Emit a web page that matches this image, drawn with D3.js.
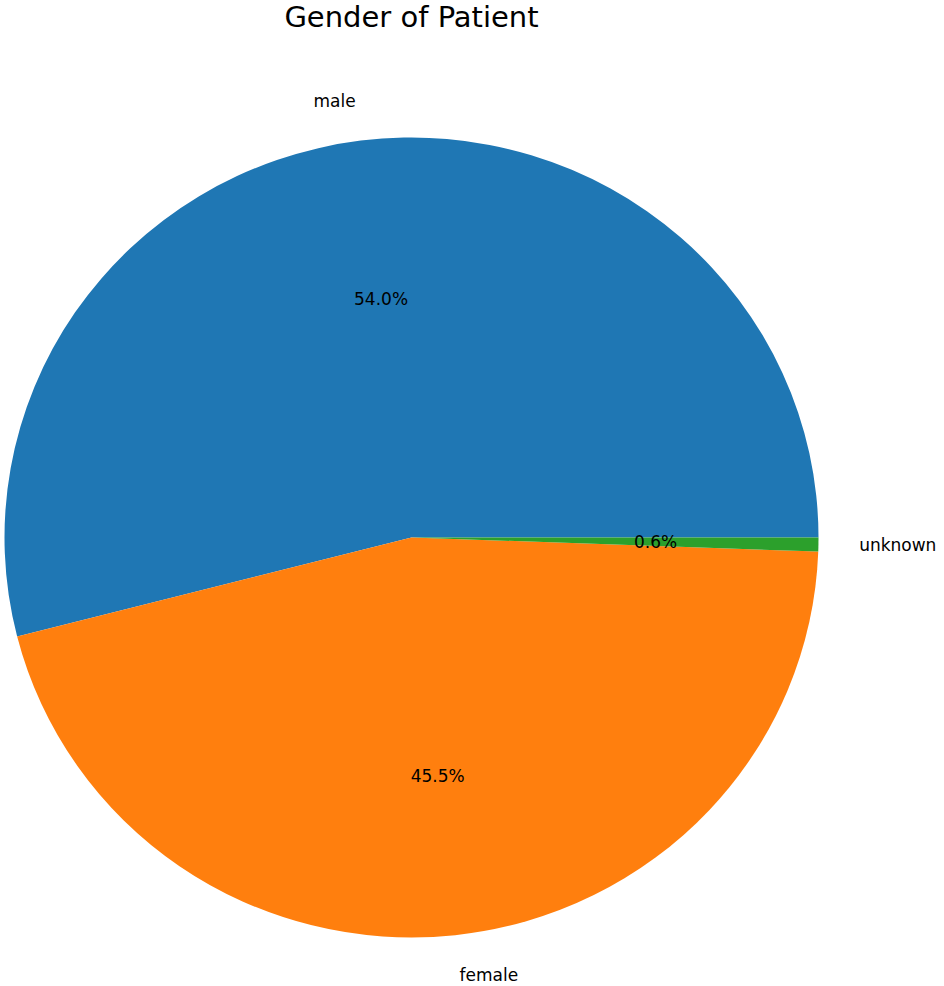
<!DOCTYPE html>
<html><head><meta charset="utf-8">
<script src="https://cdn.jsdelivr.net/npm/d3@7"></script>
<style>body{margin:0;background:#fff}svg{display:block}text{font-family:"DejaVu Sans",sans-serif;fill:#000}</style>
</head><body>
<script>
const categories = ["male", "female", "unknown"];
const values = [53.98, 45.46, 0.56];
const pctLabels = ["54.0%", "45.5%", "0.6%"];
const colors = ["#1f77b4", "#ff7f0e", "#2ca02c"];
const title = "Gender of Patient";

const W = 944, H = 986;
const cx = 411.5, cy = 537.5, rx = 407, ry = 400;
const svg = d3.select("body").append("svg").attr("width", W).attr("height", H);

svg.append("text").attr("x", cx).attr("y", 27).attr("text-anchor", "middle")
  .style("font-size", "29px").text(title);

const data = categories.map((c, i) => ({c, v: values[i], p: pctLabels[i], col: colors[i]}));
const pie = d3.pie().value(d => d.v).sort(null)
  .startAngle(Math.PI / 2).endAngle(Math.PI / 2 - 2 * Math.PI);
const arcs = pie(data);
const arc = d3.arc().innerRadius(0).outerRadius(rx);

const g = svg.append("g").attr("transform", `translate(${cx},${cy}) scale(1,${ry / rx})`);
g.selectAll("path").data(arcs).enter().append("path")
  .attr("d", arc).attr("fill", d => d.data.col);

const lg = svg.append("g").attr("transform", `translate(${cx},${cy})`);
arcs.forEach(a => {
  const m = (a.startAngle + a.endAngle) / 2;
  const sx = Math.sin(m), sy = -Math.cos(m);
  const lx = 1.1 * rx * sx, ly = 1.1 * ry * sy;
  lg.append("text").attr("x", lx).attr("y", ly)
    .attr("text-anchor", lx < 0 ? "end" : "start")
    .attr("dominant-baseline", "central").style("font-size", "17px").text(a.data.c);
  lg.append("text").attr("x", 0.6 * rx * sx).attr("y", 0.6 * ry * sy)
    .attr("text-anchor", "middle").attr("dominant-baseline", "central")
    .style("font-size", "17px").text(a.data.p);
});
</script>
</body></html>
